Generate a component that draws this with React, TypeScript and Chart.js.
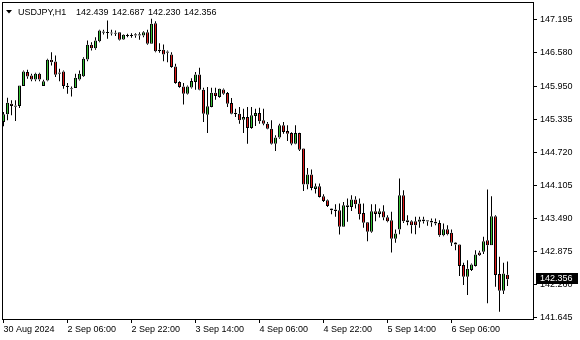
import { useEffect, useRef } from "react";
import { Chart, registerables } from "chart.js";

Chart.register(...registerables);

const symbolLabel = "USDJPY,H1";
const headerValues = ["142.439", "142.687", "142.230", "142.356"];

// Hourly OHLC, 30 Aug 14:00 -> 6 Sep 20:00 (127 bars)
const open = [
  145.285, 145.429, 145.627, 145.588, 145.583, 145.955, 146.215, 146.153, 146.079, 146.185,
  145.955, 146.060, 146.445, 146.414, 146.209, 146.228, 145.962, 145.910, 145.917, 146.079,
  146.140, 146.451, 146.724, 146.661, 146.791, 146.965, 146.958, 146.948, 146.945, 146.959,
  146.823, 146.900, 146.895, 146.905, 146.912, 146.897, 146.959, 146.743, 147.126, 146.625,
  146.631, 146.595, 146.544, 146.321, 146.029, 145.949, 145.813, 145.930, 146.029, 146.172,
  145.888, 145.423, 145.564, 145.832, 145.750, 145.893, 145.824, 145.638, 145.452, 145.441,
  145.330, 145.378, 145.173, 145.397, 145.452, 145.317, 145.255, 145.162, 144.883, 144.995,
  145.224, 145.118, 145.081, 144.883, 145.081, 144.791, 144.121, 144.307, 144.039, 144.090,
  143.904, 143.829, 143.675, 143.655, 143.643, 143.333, 143.736, 143.705, 143.842, 143.768,
  143.593, 143.420, 143.240, 143.625, 143.574, 143.625, 143.513, 143.457, 143.110, 143.284,
  143.922, 143.457, 143.439, 143.439, 143.426, 143.439, 143.452, 143.445, 143.426, 143.407,
  143.178, 143.290, 143.221, 143.043, 143.005, 142.621, 142.403, 142.528, 142.602, 142.857,
  142.868, 143.085, 142.992, 143.532, 142.454, 142.143, 142.439,
];
const high = [
  145.471, 145.739, 145.689, 145.689, 145.968, 146.246, 146.259, 146.185, 146.204, 146.204,
  146.073, 146.464, 146.587, 146.525, 146.278, 146.246, 146.010, 145.949, 146.185, 146.246,
  146.494, 146.804, 146.773, 146.866, 147.003, 147.003, 147.176, 147.003, 146.990, 146.959,
  146.920, 146.930, 146.940, 146.940, 146.959, 146.977, 147.003, 147.208, 147.163, 146.754,
  146.730, 146.618, 146.587, 146.371, 146.047, 146.010, 145.968, 146.100, 146.215, 146.297,
  145.925, 145.936, 145.925, 145.925, 145.912, 145.910, 145.843, 145.731, 145.534, 145.564,
  145.534, 145.564, 145.564, 145.534, 145.553, 145.534, 145.285, 145.317, 145.038, 145.255,
  145.285, 145.224, 145.094, 145.224, 145.085, 144.795, 144.430, 144.400, 144.140, 144.140,
  143.941, 143.842, 143.680, 143.755, 143.768, 143.798, 143.861, 143.922, 143.904, 143.861,
  143.768, 143.425, 143.755, 143.755, 143.675, 143.736, 143.550, 143.612, 143.284, 144.233,
  144.015, 143.550, 143.457, 143.519, 143.519, 143.519, 143.457, 143.490, 143.490, 143.457,
  143.396, 143.364, 143.284, 143.050, 143.010, 142.663, 142.713, 142.652, 142.899, 142.887,
  143.147, 144.028, 143.904, 143.550, 142.775, 142.663, 142.687,
];
const low = [
  145.205, 145.317, 145.410, 145.304, 145.545, 145.955, 146.092, 146.047, 146.047, 146.047,
  145.955, 146.047, 146.339, 146.122, 146.047, 145.906, 145.813, 145.763, 145.917, 146.060,
  146.122, 146.419, 146.618, 146.631, 146.773, 146.916, 146.836, 146.897, 146.890, 146.804,
  146.815, 146.866, 146.855, 146.855, 146.817, 146.866, 146.724, 146.743, 146.587, 146.575,
  146.419, 146.401, 146.297, 146.000, 145.925, 145.614, 145.800, 145.910, 145.888, 145.875,
  145.285, 145.081, 145.560, 145.702, 145.739, 145.795, 145.564, 145.428, 145.378, 145.255,
  145.081, 144.883, 145.162, 145.211, 145.255, 145.224, 145.149, 144.865, 144.746, 144.976,
  145.069, 144.932, 144.852, 144.870, 144.746, 144.002, 144.034, 144.015, 143.954, 143.880,
  143.797, 143.705, 143.569, 143.519, 143.191, 143.333, 143.426, 143.630, 143.675, 143.470,
  143.318, 143.067, 143.225, 143.439, 143.507, 143.457, 143.420, 142.857, 143.035, 143.197,
  143.407, 143.364, 143.210, 143.197, 143.315, 143.396, 143.352, 143.333, 143.364, 143.147,
  143.160, 143.178, 142.974, 142.899, 142.416, 142.249, 142.063, 142.510, 142.595, 142.788,
  142.825, 141.910, 142.990, 142.217, 141.752, 142.081, 142.230,
];
const close = [
  145.429, 145.646, 145.583, 145.575, 145.968, 146.228, 146.135, 146.079, 146.185, 146.079,
  146.047, 146.445, 146.401, 146.166, 146.185, 145.955, 145.936, 145.902, 146.111, 146.185,
  146.464, 146.724, 146.661, 146.804, 146.990, 146.955, 146.950, 146.940, 146.935, 146.817,
  146.910, 146.893, 146.900, 146.912, 146.905, 146.959, 146.743, 147.115, 146.605, 146.615,
  146.544, 146.580, 146.308, 146.010, 145.936, 145.813, 145.949, 146.051, 146.172, 145.888,
  145.441, 145.577, 145.832, 145.769, 145.906, 145.813, 145.627, 145.441, 145.441, 145.317,
  145.378, 145.173, 145.410, 145.452, 145.298, 145.255, 145.162, 144.883, 144.995, 145.224,
  145.099, 145.069, 144.880, 145.081, 144.771, 144.121, 144.307, 144.058, 144.090, 143.891,
  143.816, 143.723, 143.643, 143.630, 143.333, 143.736, 143.705, 143.842, 143.755, 143.569,
  143.411, 143.240, 143.625, 143.574, 143.625, 143.507, 143.439, 143.110, 143.210, 143.922,
  143.439, 143.420, 143.364, 143.364, 143.470, 143.470, 143.436, 143.415, 143.396, 143.178,
  143.290, 143.197, 143.035, 143.005, 142.602, 142.403, 142.552, 142.634, 142.819, 142.806,
  143.067, 142.992, 143.532, 142.435, 142.143, 142.466, 142.356,
];

const timeLabels = [
  "30 Aug 2024", "2 Sep 06:00", "2 Sep 22:00", "3 Sep 14:00",
  "4 Sep 06:00", "4 Sep 22:00", "5 Sep 14:00", "6 Sep 06:00",
];
const timeTickBars = [0, 16, 32, 48, 64, 80, 96, 112];
const priceTicks = [
  147.195, 146.58, 145.95, 145.335, 144.72, 144.105, 143.49, 142.875, 142.26, 141.645,
];

const BULL = "#36c236";
const BEAR = "#e01818";
const FONT = "'Liberation Sans', Arial, sans-serif";

export default function App() {
  const ref = useRef<HTMLCanvasElement>(null);

  useEffect(() => {
    if (!ref.current) return;
    const n = close.length;
    const bodyLo: number[] = [];
    const bodyHi: number[] = [];
    open.forEach((o, i) => {
      const c = close[i];
      let lo = Math.min(o, c);
      let hi = Math.max(o, c);
      if (hi - lo < 0.02) {
        const m = (hi + lo) / 2;
        lo = m - 0.01;
        hi = m + 0.01;
      }
      bodyLo.push(lo);
      bodyHi.push(hi);
    });
    const bodies = bodyLo.map((lo, i) => ({ x: i, y: [lo, bodyHi[i]] }));
    const upperWicks = high.map((h, i) => ({ x: i, y: [bodyHi[i], Math.max(h, bodyHi[i])] }));
    const lowerWicks = low.map((l, i) => ({ x: i, y: [Math.min(l, bodyLo[i]), bodyLo[i]] }));
    const colors = close.map((c, i) => (c > open[i] ? BULL : BEAR));
    const lastPrice = close[n - 1];

    const decor = {
      id: "decor",
      afterDraw(chart: any) {
        const { ctx, chartArea: a } = chart;
        const ys = chart.scales.y;
        ctx.save();
        ctx.strokeStyle = "#000";
        ctx.lineWidth = 1;
        ctx.strokeRect(a.left + 0.5, a.top + 0.5, a.right - a.left - 1, a.bottom - a.top - 1);
        ctx.fillStyle = "#000";
        ctx.beginPath();
        ctx.moveTo(6, 10);
        ctx.lineTo(12, 10);
        ctx.lineTo(9, 13.5);
        ctx.closePath();
        ctx.fill();
        ctx.font = `9px ${FONT}`;
        ctx.textBaseline = "alphabetic";
        ctx.textAlign = "left";
        ctx.fillText(symbolLabel, 18, 15);
        headerValues.forEach((t, i) => ctx.fillText(t, 76 + i * 36, 15));
        const py = Math.round(ys.getPixelForValue(lastPrice));
        ctx.fillStyle = "#000";
        ctx.fillRect(536, py - 6, 42, 11);
        ctx.fillStyle = "#fff";
        ctx.textBaseline = "middle";
        ctx.fillText(lastPrice.toFixed(3), 540, py);
        ctx.restore();
      },
    };

    const wickStyle = {
      backgroundColor: "#000",
      borderWidth: 0,
      barPercentage: 1,
      categoryPercentage: 1,
      maxBarThickness: 1,
      grouped: false,
      inflateAmount: 0,
    };

    const chart = new Chart(ref.current, {
      type: "bar",
      data: {
        datasets: [
          { data: upperWicks as any, ...wickStyle } as any,
          { data: lowerWicks as any, ...wickStyle } as any,
          {
            data: bodies as any,
            backgroundColor: colors,
            borderColor: "#000",
            borderWidth: 1,
            borderSkipped: false,
            barPercentage: 1,
            categoryPercentage: 1,
            maxBarThickness: 3,
            grouped: false,
            inflateAmount: 0,
          } as any,
        ],
      },
      options: {
        animation: false,
        responsive: false,
        devicePixelRatio: 1,
        layout: { padding: { left: 2, top: 2, right: 0, bottom: 0 } },
        plugins: { legend: { display: false }, tooltip: { enabled: false } },
        scales: {
          x: {
            type: "linear",
            min: -0.375,
            max: 132.625,
            offset: false,
            grid: {
              display: true,
              offset: false,
              drawOnChartArea: false,
              drawTicks: true,
              tickLength: 3,
              color: "#000",
            },
            border: { display: false },
            afterBuildTicks: (s: any) => {
              s.ticks = timeTickBars.map((v) => ({ value: v }));
            },
            afterFit: (s: any) => {
              s.height = 20;
              s.paddingLeft = 0;
              s.paddingRight = 0;
              s.paddingTop = 0;
              s.paddingBottom = 0;
            },
            ticks: {
              autoSkip: false,
              maxRotation: 0,
              minRotation: 0,
              align: "start",
              padding: 1,
              color: "#000",
              font: { family: FONT, size: 9 },
              callback: (_v: any, i: number) => timeLabels[i],
            },
          } as any,
          y: {
            type: "linear",
            position: "right",
            min: 141.598,
            max: 147.521,
            grid: {
              display: true,
              drawOnChartArea: false,
              drawTicks: true,
              tickLength: 3,
              color: "#000",
            },
            border: { display: false },
            afterBuildTicks: (s: any) => {
              s.ticks = priceTicks.map((v) => ({ value: v }));
            },
            afterFit: (s: any) => {
              s.width = 46;
              s.paddingLeft = 0;
              s.paddingRight = 0;
              s.paddingTop = 0;
              s.paddingBottom = 0;
            },
            ticks: {
              autoSkip: false,
              padding: 3,
              color: "#000",
              font: { family: FONT, size: 9 },
              callback: (v: any) => Number(v).toFixed(3),
            },
          } as any,
        },
      },
      plugins: [decor],
    });
    return () => chart.destroy();
  }, []);

  return (
    <div style={{ position: "absolute", left: 0, top: 0, width: 580, height: 340, background: "#fff" }}>
      <canvas ref={ref} width={580} height={340} style={{ display: "block" }} />
    </div>
  );
}
